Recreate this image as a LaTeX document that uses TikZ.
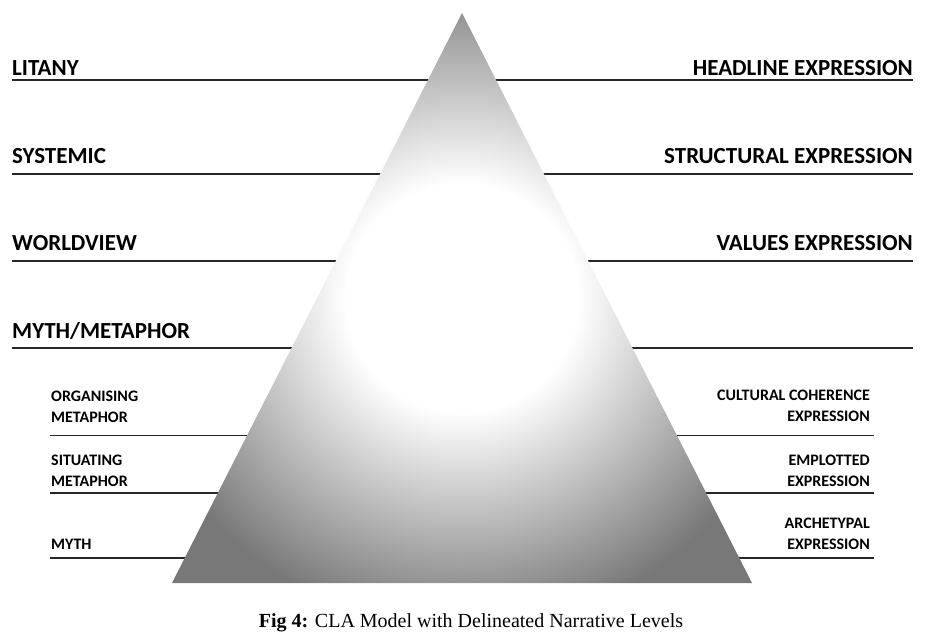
\documentclass[tikz,border=0pt]{standalone}
\usepackage{fontspec}
\setmainfont{Carlito}
\newfontfamily\captionfont{Liberation Serif}
\usetikzlibrary{calc}
\pgfdeclareradialshading{pyramidglow}{\pgfpoint{0bp}{0bp}}{color(0bp)=(white); color(10bp)=(white); color(29bp)=(black!53); color(50bp)=(black!53)}
\tikzset{
  biglevel/.style={font=\fontsize{23}{27}\selectfont\bfseries, inner sep=0pt},
  smalllevel/.style={font=\fontsize{16}{21}\selectfont\bfseries, inner sep=0pt},
  levelline/.style={line width=1.6pt, draw=black!85}
}
\begin{document}
\begin{tikzpicture}[x=1pt, y=-1pt]
			\useasboundingbox (0,0) rectangle (931,638);
			%%%%% START %%%%%
			\coordinate (apex) at (462, 13);
			\coordinate (baseL) at (172, 583);
			\coordinate (baseR) at (752, 583);
			
			% main levels, left and right
			\draw[levelline] (12, 80) -- (913, 80);
			\draw[levelline] (12, 174) -- (913, 174);
			\draw[levelline] (12, 261) -- (913, 261);
			\draw[levelline] (12, 348) -- (913, 348);
			
			% myth/metaphor sub-levels
			\draw[levelline] (50, 435.5) -- (874, 435.5);
			\draw[levelline] (50, 493) -- (874, 493);
			\draw[levelline] (50, 558) -- (874, 558);
			
			\shade[shading=pyramidglow] (apex) -- (baseR) -- (baseL) -- cycle;
			
			\node[biglevel, anchor=base west] (litany) at (12, 75.5) {LITANY};
			\node[biglevel, anchor=base west] (systemic) at (12, 163) {SYSTEMIC};
			\node[biglevel, anchor=base west] (worldview) at (12, 250) {WORLDVIEW};
			\node[biglevel, anchor=base west] (myth) at (12, 338) {MYTH/METAPHOR};
			
			\node[biglevel, anchor=base east] (headline) at (913, 75.5) {HEADLINE EXPRESSION};
			\node[biglevel, anchor=base east] (structural) at (913, 163) {STRUCTURAL EXPRESSION};
			\node[biglevel, anchor=base east] (values) at (913, 250) {VALUES EXPRESSION};
			
			\node[smalllevel, anchor=base west] (organising) at (51, 401.7) {ORGANISING};
			\node[smalllevel, anchor=base west] (organisingB) at (51, 422.7) {METAPHOR};
			\node[smalllevel, anchor=base west] (situating) at (51, 465) {SITUATING};
			\node[smalllevel, anchor=base west] (situatingB) at (51, 486) {METAPHOR};
			\node[smalllevel, anchor=base west] (mythsub) at (51, 549) {MYTH};
			
			\node[smalllevel, anchor=base east] (cultural) at (870, 400.7) {CULTURAL COHERENCE};
			\node[smalllevel, anchor=base east] (culturalB) at (870, 421.7) {EXPRESSION};
			\node[smalllevel, anchor=base east] (emplotted) at (870, 465) {EMPLOTTED};
			\node[smalllevel, anchor=base east] (emplottedB) at (870, 486) {EXPRESSION};
			\node[smalllevel, anchor=base east] (archetypal) at (870, 528) {ARCHETYPAL};
			\node[smalllevel, anchor=base east] (archetypalB) at (870, 549) {EXPRESSION};
			
			\node[anchor=base, inner sep=0pt, font=\captionfont\fontsize{20}{23}\selectfont] (caption) at (471, 627) {\textbf{Fig 4:} CLA Model with Delineated Narrative Levels};
			%%%%% END %%%%%
		\end{tikzpicture}
\end{document}
